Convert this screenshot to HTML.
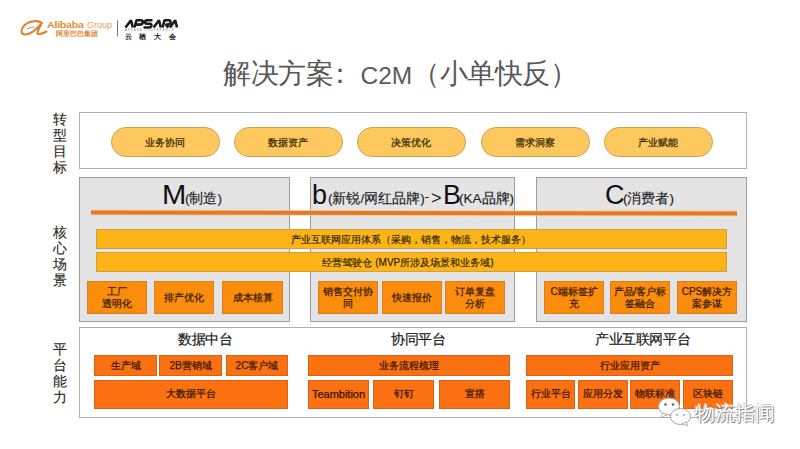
<!DOCTYPE html>
<html><head><meta charset="utf-8">
<style>
html,body{margin:0;padding:0;}
body{width:800px;height:449px;overflow:hidden;background:#fff;position:relative;font-family:"Liberation Sans",sans-serif;}
.a{position:absolute;box-sizing:border-box;white-space:nowrap;}
.t{font-size:27.5px;letter-spacing:-0.5px;color:#585858;line-height:32px;top:58px;}
.tl{font-size:24.5px;color:#5c5c5c;line-height:32px;top:59.5px;}
.lab{font-size:14px;color:#262626;-webkit-text-stroke:0.1px #262626;line-height:16px;width:16px;text-align:center;white-space:normal;}
.frame{border:1px solid #b0b0b0;background:#fff;}
.gbox{border:1px solid #9c9c9c;background:#e4e4e4;}
.pill{background:#fdc95e;border:1px solid #cfa054;border-radius:15px;font-size:10px;font-weight:normal;color:#3a2808;-webkit-text-stroke:0.25px #3a2808;padding-top:1px;padding-right:1px;text-align:center;display:flex;align-items:center;justify-content:center;top:127px;width:108.5px;height:30px;}
.L{font-size:27px;color:#111;line-height:30px;top:180px;}
.L2{font-size:18px;color:#222;line-height:30px;top:180px;}
.hc{font-size:13.5px;color:#1e1e1e;-webkit-text-stroke:0.15px #1e1e1e;line-height:20px;top:189px;}
.oline{background:#e27a2a;}
.bar{background:#fdb417;border:1px solid #cfa03c;font-size:10px;color:#2a1c08;-webkit-text-stroke:0.15px #2a1c08;padding-top:1px;text-align:center;display:flex;align-items:center;justify-content:center;}
.ob{background:#fb8c0c;border:1px solid #d58028;font-size:10px;font-weight:normal;color:#3a1c06;-webkit-text-stroke:0.25px #3a1c06;text-align:center;display:flex;align-items:center;justify-content:center;line-height:12px;top:281px;height:33px;white-space:normal;}
.pb{background:#fb7010;border:1px solid #d8621a;font-size:10px;font-weight:normal;color:#3a1806;-webkit-text-stroke:0.25px #3a1806;text-align:center;display:flex;align-items:center;justify-content:center;}
.r1{top:355px;height:21px;}
.r2{top:380px;height:28.5px;}
.pt{font-size:13.5px;letter-spacing:-0.4px;color:#1a1a1a;-webkit-text-stroke:0.2px #1a1a1a;line-height:20px;top:330px;}
</style></head><body>


<!-- logo -->
<svg class="a" style="left:0;top:0;" width="200" height="50" viewBox="0 0 200 50">
  <path d="M42 23 C38 19.5 27 21 23 27 C20.5 31 21 34.5 25 34.5 C30 34.5 36 30 41.5 23.5 C40 27 37 31 37.5 33.5 C38 35 43 33.5 46.5 31.5" fill="none" stroke="#dc8530" stroke-width="2.1" stroke-linecap="round"/>
  <path d="M27.5 29 Q31 26.5 34 27" fill="none" stroke="#9a8a80" stroke-width="1" stroke-linecap="round"/>
  <line x1="117.5" y1="20.5" x2="117.5" y2="36.5" stroke="#666" stroke-width="0.9"/>
  <g fill="none" stroke="#1a1a1a" stroke-width="2.6" stroke-linejoin="bevel">
    <path d="M125.5 27.5 L131 20.3 L132.8 27.5"/>
    <path d="M134.5 27.5 L136.5 20.3 L140.8 20.3 Q143.3 20.5 142.8 22.6 Q142.3 24.6 139.5 24.6 L136.5 24.6"/>
    <path d="M152.5 20.3 L147 20.3 Q145 20.5 145 22.1 Q145 23.8 147 23.8 L149.8 23.8 Q151.8 24 151.3 25.8 Q150.8 27.5 148.8 27.5 L143.5 27.5"/>
    <path d="M153.5 27.5 L159 20.3 L160.8 27.5"/>
    <path d="M162.5 27.5 L164.5 20.3 L168.5 20.3 Q171 20.5 170.5 22.6 Q170 24.6 167.5 24.6 L165.8 24.6 L168.5 27.5"/>
    <path d="M170 27.5 L175.2 20.3 L177 27.5"/>
  </g>
  <text x="125" y="31" font-size="2.6" fill="#777" font-family="Liberation Sans" letter-spacing="1.2">APSARA CONFERENCE</text>
  <text x="124.5" y="38.8" font-size="7" font-weight="bold" fill="#222" letter-spacing="7.8" font-family="Liberation Sans">云栖大会</text>
</svg>
<div class="a" style="left:47px;top:19.5px;font-size:9px;line-height:10px;color:#e08830;font-weight:bold;transform:scaleX(1.18);transform-origin:0 0;letter-spacing:-0.2px;">Alibaba</div>
<div class="a" style="left:87px;top:19.5px;font-size:9px;line-height:10px;color:#e6a060;transform:scaleX(1.0);transform-origin:0 0;">Group</div>
<div class="a" style="left:56px;top:30px;font-size:7px;line-height:8px;color:#e08830;font-weight:bold;">阿里巴巴集团</div>

<div class="a t" style="left:223px;">解决方案</div>
<div class="a t" style="left:326px;">：</div>
<div class="a tl" style="left:360.5px;">C2M</div>
<div class="a t" style="left:412px;">（小单快反）</div>

<!-- labels -->
<div class="a lab" style="left:52px;top:111px;">转型目标</div>
<div class="a lab" style="left:52px;top:224px;">核心场景</div>
<div class="a lab" style="left:52px;top:341px;">平台能力</div>

<!-- top frame -->
<div class="a frame" style="left:79px;top:112px;width:668px;height:57px;"></div>
<div class="a pill" style="left:111px;">业务协同</div>
<div class="a pill" style="left:234px;">数据资产</div>
<div class="a pill" style="left:357px;">决策优化</div>
<div class="a pill" style="left:481px;">需求洞察</div>
<div class="a pill" style="left:604px;">产业赋能</div>

<!-- core -->
<div class="a gbox" style="left:79px;top:177px;width:211px;height:145px;"></div>
<div class="a gbox" style="left:310px;top:177px;width:205px;height:145px;"></div>
<div class="a gbox" style="left:536px;top:177px;width:211px;height:145px;"></div>

<div class="a L" style="left:162px;transform:scaleX(1.08);transform-origin:0 0;">M</div><div class="a hc" style="left:185px;">(制造)</div>
<div class="a L" style="left:312px;">b</div><div class="a hc" style="left:328px;">(新锐/网红品牌)</div>
<div class="a" style="left:424.5px;top:196.5px;width:4px;height:1.4px;background:#333;"></div><div class="a L2" style="left:431px;top:183px;">&gt;</div>
<div class="a L" style="left:443px;">B</div><div class="a hc" style="left:459px;">(KA品牌)</div>
<div class="a L" style="left:605px;">C</div><div class="a hc" style="left:623px;">(消费者)</div>

<div class="a oline" style="left:91px;top:210.75px;width:646px;height:3.5px;transform:rotate(0.09deg);box-shadow:0 -1px 0 rgba(250,200,140,0.7),0 1px 0 rgba(250,200,140,0.6);"></div>

<div class="a bar" style="left:96px;top:229px;width:631px;height:20px;padding-right:2px;">产业互联网应用体系（采购，销售，物流，技术服务）</div>
<div class="a bar" style="left:96px;top:252px;width:631px;height:20px;padding-right:7px;">经营驾驶仓 (MVP所涉及场景和业务域)</div>

<div class="a ob" style="left:87px;width:60px;">工厂<br>透明化</div>
<div class="a ob" style="left:154px;width:60px;">排产优化</div>
<div class="a ob" style="left:222px;width:61px;">成本核算</div>

<div class="a ob" style="left:318px;width:60px;">销售交付协<br>同</div>
<div class="a ob" style="left:382px;width:60px;">快速报价</div>
<div class="a ob" style="left:445px;width:60px;">订单复盘<br>分析</div>

<div class="a ob" style="left:544px;width:60px;">C端标签扩<br>充</div>
<div class="a ob" style="left:610px;width:60px;">产品/客户标<br>签融合</div>
<div class="a ob" style="left:677px;width:60px;">CPS解决方<br>案参谋</div>

<!-- platform -->
<div class="a frame" style="left:79px;top:327px;width:668px;height:91px;"></div>
<div class="a pt" style="left:178px;">数据中台</div>
<div class="a pt" style="left:391px;">协同平台</div>
<div class="a pt" style="left:595px;">产业互联网平台</div>

<div class="a pb r1" style="left:94px;width:63px;">生产域</div>
<div class="a pb r1" style="left:159px;width:63px;">2B营销域</div>
<div class="a pb r1" style="left:226px;width:62px;">2C客户域</div>
<div class="a pb r2" style="left:94px;width:194px;">大数据平台</div>

<div class="a pb r1" style="left:308px;width:202px;">业务流程梳理</div>
<div class="a pb r2" style="left:308px;width:61px;font-weight:normal;font-size:11px;color:#2a1406;">Teambition</div>
<div class="a pb r2" style="left:373px;width:61px;">钉钉</div>
<div class="a pb r2" style="left:439px;width:71px;">宣搭</div>

<div class="a pb r1" style="left:526px;width:207px;">行业应用资产</div>
<div class="a pb r2" style="left:526px;width:49px;">行业平台</div>
<div class="a pb r2" style="left:578px;width:50px;">应用分发</div>
<div class="a pb r2" style="left:630px;width:50px;">物联标准</div>
<div class="a pb r2" style="left:683px;width:50px;">区块链</div>


<!-- watermark -->
<svg class="a" style="left:650px;top:390px;" width="50" height="40" viewBox="0 0 50 40">
  <ellipse cx="19" cy="16.5" rx="10.5" ry="8.5" fill="#fff" stroke="#a0a0a0" stroke-width="1"/>
  <path d="M13 23 L10.5 28 L17 24.5 Z" fill="#fff" stroke="#a0a0a0" stroke-width="0.8"/>
  <circle cx="15.5" cy="14.5" r="1.3" fill="#666"/>
  <circle cx="23" cy="14.5" r="1.3" fill="#666"/>
  <ellipse cx="30.5" cy="26.5" rx="10" ry="8" fill="#fff" stroke="#a0a0a0" stroke-width="1"/>
  <path d="M36 32 L38 36 L32 33.5 Z" fill="#fff" stroke="#a0a0a0" stroke-width="0.8"/>
  <circle cx="27" cy="25" r="1.1" fill="#aaa"/>
  <circle cx="34" cy="25" r="1.1" fill="#aaa"/>
</svg>
<div class="a" style="left:695px;top:401px;font-size:19.5px;line-height:24px;color:#fff;text-shadow:1px 1px 0 #8a8a8a,-0.6px -0.6px 0 #c8c8c8;">物流指闻</div>
</body></html>
